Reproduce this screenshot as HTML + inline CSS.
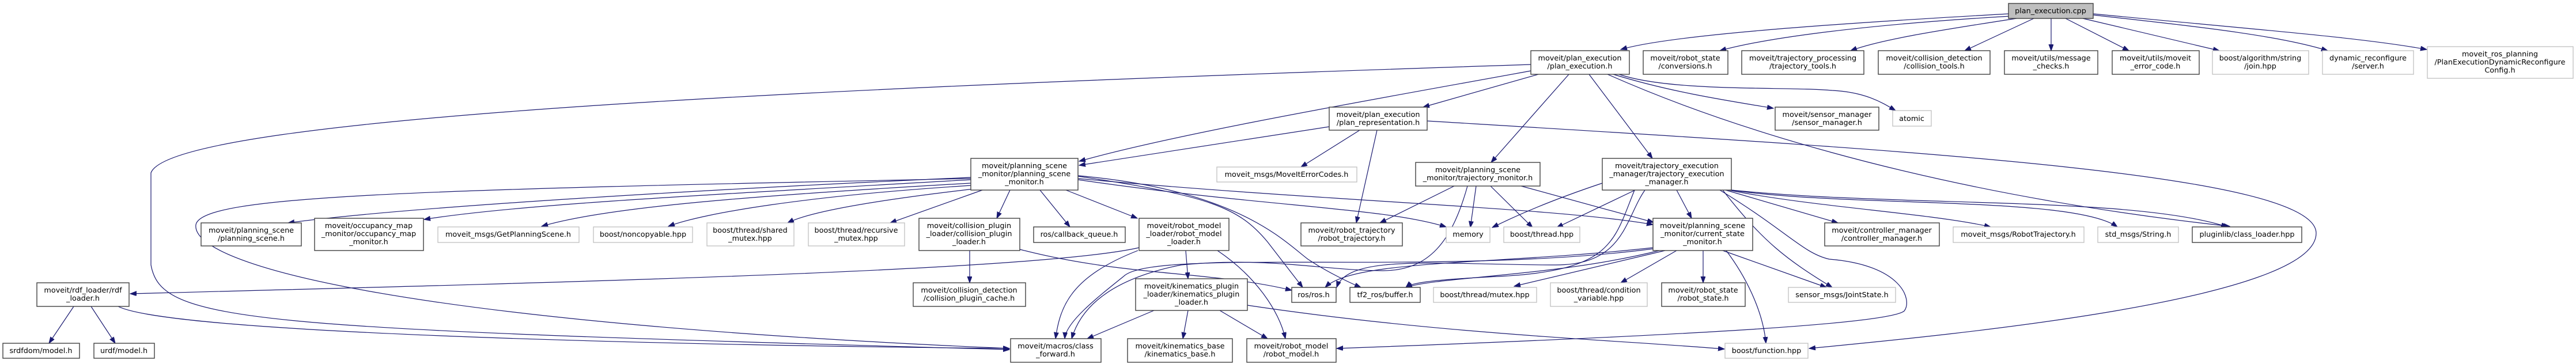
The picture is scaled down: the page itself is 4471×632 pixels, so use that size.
<!DOCTYPE html>
<html><head><meta charset="utf-8"><style>
html,body{margin:0;padding:0;background:#fff;}
svg{display:block;}
text{font-family:"DejaVu Sans","Liberation Sans",sans-serif;font-size:12.8px;fill:#000;text-anchor:middle;}
.n{fill:#fff;stroke:#404040;stroke-width:1.4;}
.g{fill:#fff;stroke:#bfbfbf;stroke-width:1.3;}
.r{fill:#bfbfbf;stroke:#404040;stroke-width:1.4;}
path.e{fill:none;stroke:#191970;stroke-width:1.2;marker-end:url(#a);}
</style></head><body>
<svg width="4471" height="632" viewBox="0 0 4471 632" xmlns="http://www.w3.org/2000/svg">
<defs><marker id="a" markerUnits="userSpaceOnUse" markerWidth="12" markerHeight="10" refX="11" refY="4" orient="auto"><path d="M0,0 L11,4 L0,8 Z" fill="#191970" stroke="#191970"/></marker></defs>
<path class="e" d="M3486,24 C3200,40 2900,60 2813,86"/>
<path class="e" d="M3490,28 C3200,45 3050,70 2985,88"/>
<path class="e" d="M3500,32 C3350,55 3260,70 3212,88"/>
<path class="e" d="M3530,32 L3410,88"/>
<path class="e" d="M3560,32 L3560,88"/>
<path class="e" d="M3585,32 L3695,88"/>
<path class="e" d="M3615,32 L3852,88"/>
<path class="e" d="M3633,26 C3800,45 3950,60 4040,88"/>
<path class="e" d="M3633,24 C3900,50 4100,65 4212,86"/>
<path class="e" d="M2657,112 C1500,150 300,200 262,300 L262,460 C280,560 420,570 1752,607"/>
<path class="e" d="M2657,123 C2400,170 2050,230 1873,280"/>
<path class="e" d="M2670,129 L2470,186"/>
<path class="e" d="M2723,129 L2588,282"/>
<path class="e" d="M2758,129 L2868,275"/>
<path class="e" d="M2800,129 C2900,160 3000,175 3078,188"/>
<path class="e" d="M2810,129 C2900,160 3100,150 3180,157 C3240,160 3270,180 3290,192"/>
<path class="e" d="M2790,129 C2950,200 3300,330 3870,393"/>
<path class="e" d="M2477,210 C3300,260 4020,300 4020,405 C4020,520 3400,580 3140,605"/>
<path class="e" d="M2307,220 L1873,287"/>
<path class="e" d="M2360,226 L2258,290"/>
<path class="e" d="M2390,226 L2354,387"/>
<path class="e" d="M1685,308 C1200,330 700,360 500,387"/>
<path class="e" d="M1685,312 C1200,340 900,355 736,381"/>
<path class="e" d="M1685,318 C1300,340 1050,360 940,393"/>
<path class="e" d="M1685,322 C1400,340 1220,370 1160,393"/>
<path class="e" d="M1690,328 C1500,350 1400,370 1367,387"/>
<path class="e" d="M1705,330 L1545,387"/>
<path class="e" d="M1753,330 L1730,379"/>
<path class="e" d="M1805,330 L1857,394"/>
<path class="e" d="M1850,330 L1974,379"/>
<path class="e" d="M1871,312 C2200,360 2400,360 2510,394"/>
<path class="e" d="M1871,310 C2300,350 2700,360 2869,390"/>
<path class="e" d="M1871,306 C2100,340 2150,360 2200,420 L2261,499"/>
<path class="e" d="M1871,305 C2150,330 2230,420 2270,450 C2300,470 2340,490 2362,499"/>
<path class="e" d="M1685,310 C700,330 350,340 340,390 C330,460 700,560 1752,605"/>
<path class="e" d="M1683,435 L1683,491"/>
<path class="e" d="M1770,433 C1950,480 2100,470 2242,504"/>
<path class="e" d="M1977,430 C1800,470 1000,490 226,510"/>
<path class="e" d="M1975,435 C1860,480 1840,530 1832,588"/>
<path class="e" d="M2058,435 L2062,484"/>
<path class="e" d="M2113,435 C2180,480 2220,540 2231,588"/>
<path class="e" d="M2003,539 L1887,588"/>
<path class="e" d="M2062,539 L2053,588"/>
<path class="e" d="M2117,539 L2200,588"/>
<path class="e" d="M2165,530 C2500,580 2800,590 2993,606"/>
<path class="e" d="M2524,323 L2395,387"/>
<path class="e" d="M2562,323 L2552,395"/>
<path class="e" d="M2587,323 L2660,395"/>
<path class="e" d="M2640,323 L2870,386"/>
<path class="e" d="M2547,323 C2520,420 2480,470 2400,470 C2300,470 2200,445 2050,460 C1950,480 1880,520 1860,588"/>
<path class="e" d="M2781,318 C2700,345 2640,370 2590,395"/>
<path class="e" d="M2838,330 L2702,395"/>
<path class="e" d="M2910,330 L2936,379"/>
<path class="e" d="M2995,330 L3190,387"/>
<path class="e" d="M3000,330 C3150,360 3350,370 3455,394"/>
<path class="e" d="M3005,330 C3200,360 3600,340 3675,394"/>
<path class="e" d="M3005,330 C3300,360 3700,340 3866,394"/>
<path class="e" d="M2855,330 C2820,380 2820,460 2700,460 C2500,460 2340,440 2320,499"/>
<path class="e" d="M2837,330 C2800,420 2800,470 2600,480 C2500,485 2450,490 2440,499"/>
<path class="e" d="M2990,330 C3060,420 3100,450 3180,499"/>
<path class="e" d="M2985,330 C3100,400 3130,440 3175,450 C3300,460 3320,520 3305,540 C3280,560 3000,580 2320,605"/>
<path class="e" d="M2869,430 C2600,460 2350,450 2300,499"/>
<path class="e" d="M2880,435 C2700,480 2500,480 2440,499"/>
<path class="e" d="M2890,435 L2628,497"/>
<path class="e" d="M2910,435 L2813,491"/>
<path class="e" d="M2956,435 L2956,491"/>
<path class="e" d="M2990,435 L3170,499"/>
<path class="e" d="M2996,435 C3030,480 3060,540 3065,596"/>
<path class="e" d="M2869,432 C2500,480 2000,430 1950,480 C1900,520 1850,560 1848,588"/>
<path class="e" d="M128,532 L85,596"/>
<path class="e" d="M158,532 L200,596"/>
<path class="e" d="M205,532 C300,580 1200,600 1752,605"/>
<rect class="r" x="3486" y="6" width="147" height="26"/><text x="3559" y="23">plan_execution.cpp</text>
<rect class="n" x="2657" y="88" width="171" height="41"/><text x="2742" y="105">moveit/plan_execution</text><text x="2742" y="119">/plan_execution.h</text>
<rect class="n" x="2852" y="88" width="147" height="41"/><text x="2925" y="105">moveit/robot_state</text><text x="2925" y="119">/conversions.h</text>
<rect class="n" x="3023" y="88" width="212" height="41"/><text x="3129" y="105">moveit/trajectory_processing</text><text x="3129" y="119">/trajectory_tools.h</text>
<rect class="n" x="3260" y="88" width="194" height="41"/><text x="3357" y="105">moveit/collision_detection</text><text x="3357" y="119">/collision_tools.h</text>
<rect class="n" x="3479" y="88" width="162" height="41"/><text x="3560" y="105">moveit/utils/message</text><text x="3560" y="119">_checks.h</text>
<rect class="n" x="3666" y="88" width="151" height="41"/><text x="3741" y="105">moveit/utils/moveit</text><text x="3741" y="119">_error_code.h</text>
<rect class="g" x="3840" y="88" width="167" height="41"/><text x="3923" y="105">boost/algorithm/string</text><text x="3923" y="119">/join.hpp</text>
<rect class="g" x="4031" y="88" width="158" height="41"/><text x="4110" y="105">dynamic_reconfigure</text><text x="4110" y="119">/server.h</text>
<rect class="g" x="4213" y="81" width="253" height="55"/><text x="4339" y="98">moveit_ros_planning</text><text x="4339" y="112">/PlanExecutionDynamicReconfigure</text><text x="4339" y="126">Config.h</text>
<rect class="n" x="2307" y="186" width="170" height="40"/><text x="2392" y="203">moveit/plan_execution</text><text x="2392" y="217">/plan_representation.h</text>
<rect class="n" x="3081" y="186" width="180" height="40"/><text x="3171" y="203">moveit/sensor_manager</text><text x="3171" y="217">/sensor_manager.h</text>
<rect class="g" x="3285" y="192" width="67" height="27"/><text x="3318" y="210">atomic</text>
<rect class="n" x="1685" y="275" width="186" height="55"/><text x="1778" y="292">moveit/planning_scene</text><text x="1778" y="306">_monitor/planning_scene</text><text x="1778" y="320">_monitor.h</text>
<rect class="g" x="2112" y="290" width="243" height="26"/><text x="2233" y="307">moveit_msgs/MoveItErrorCodes.h</text>
<rect class="n" x="2457" y="282" width="216" height="41"/><text x="2565" y="299">moveit/planning_scene</text><text x="2565" y="313">_monitor/trajectory_monitor.h</text>
<rect class="n" x="2781" y="275" width="224" height="55"/><text x="2893" y="292">moveit/trajectory_execution</text><text x="2893" y="306">_manager/trajectory_execution</text><text x="2893" y="320">_manager.h</text>
<rect class="n" x="349" y="387" width="174" height="40"/><text x="436" y="404">moveit/planning_scene</text><text x="436" y="418">/planning_scene.h</text>
<rect class="n" x="546" y="379" width="189" height="56"/><text x="640" y="396">moveit/occupancy_map</text><text x="640" y="410">_monitor/occupancy_map</text><text x="640" y="424">_monitor.h</text>
<rect class="g" x="760" y="394" width="245" height="27"/><text x="882" y="411">moveit_msgs/GetPlanningScene.h</text>
<rect class="g" x="1030" y="394" width="172" height="27"/><text x="1116" y="411">boost/noncopyable.hpp</text>
<rect class="g" x="1227" y="387" width="151" height="40"/><text x="1302" y="404">boost/thread/shared</text><text x="1302" y="418">_mutex.hpp</text>
<rect class="g" x="1403" y="387" width="167" height="40"/><text x="1486" y="404">boost/thread/recursive</text><text x="1486" y="418">_mutex.hpp</text>
<rect class="n" x="1595" y="379" width="175" height="56"/><text x="1682" y="396">moveit/collision_plugin</text><text x="1682" y="410">_loader/collision_plugin</text><text x="1682" y="424">_loader.h</text>
<rect class="n" x="1794" y="394" width="159" height="27"/><text x="1873" y="411">ros/callback_queue.h</text>
<rect class="n" x="1977" y="379" width="156" height="56"/><text x="2055" y="396">moveit/robot_model</text><text x="2055" y="410">_loader/robot_model</text><text x="2055" y="424">_loader.h</text>
<rect class="n" x="2258" y="387" width="176" height="40"/><text x="2346" y="404">moveit/robot_trajectory</text><text x="2346" y="418">/robot_trajectory.h</text>
<rect class="g" x="2510" y="394" width="76" height="27"/><text x="2548" y="411">memory</text>
<rect class="g" x="2610" y="394" width="132" height="27"/><text x="2676" y="411">boost/thread.hpp</text>
<rect class="n" x="2869" y="379" width="173" height="56"/><text x="2955" y="396">moveit/planning_scene</text><text x="2955" y="410">_monitor/current_state</text><text x="2955" y="424">_monitor.h</text>
<rect class="n" x="3167" y="387" width="199" height="40"/><text x="3266" y="404">moveit/controller_manager</text><text x="3266" y="418">/controller_manager.h</text>
<rect class="g" x="3390" y="394" width="227" height="27"/><text x="3503" y="411">moveit_msgs/RobotTrajectory.h</text>
<rect class="g" x="3641" y="394" width="140" height="27"/><text x="3711" y="411">std_msgs/String.h</text>
<rect class="n" x="3805" y="394" width="190" height="27"/><text x="3900" y="411">pluginlib/class_loader.hpp</text>
<rect class="n" x="64" y="491" width="160" height="41"/><text x="144" y="508">moveit/rdf_loader/rdf</text><text x="144" y="522">_loader.h</text>
<rect class="n" x="1585" y="491" width="195" height="41"/><text x="1682" y="508">moveit/collision_detection</text><text x="1682" y="522">/collision_plugin_cache.h</text>
<rect class="n" x="1971" y="484" width="194" height="55"/><text x="2068" y="501">moveit/kinematics_plugin</text><text x="2068" y="515">_loader/kinematics_plugin</text><text x="2068" y="529">_loader.h</text>
<rect class="n" x="2242" y="499" width="77" height="26"/><text x="2280" y="516">ros/ros.h</text>
<rect class="n" x="2343" y="499" width="122" height="26"/><text x="2404" y="516">tf2_ros/buffer.h</text>
<rect class="g" x="2488" y="499" width="179" height="26"/><text x="2577" y="516">boost/thread/mutex.hpp</text>
<rect class="g" x="2691" y="491" width="168" height="41"/><text x="2775" y="508">boost/thread/condition</text><text x="2775" y="522">_variable.hpp</text>
<rect class="n" x="2884" y="491" width="145" height="41"/><text x="2956" y="508">moveit/robot_state</text><text x="2956" y="522">/robot_state.h</text>
<rect class="g" x="3104" y="499" width="186" height="26"/><text x="3197" y="516">sensor_msgs/JointState.h</text>
<rect class="n" x="5" y="596" width="133" height="26"/><text x="71" y="613">srdfdom/model.h</text>
<rect class="n" x="163" y="596" width="105" height="26"/><text x="215" y="613">urdf/model.h</text>
<rect class="n" x="1754" y="588" width="157" height="41"/><text x="1832" y="605">moveit/macros/class</text><text x="1832" y="619">_forward.h</text>
<rect class="n" x="1957" y="588" width="182" height="41"/><text x="2048" y="605">moveit/kinematics_base</text><text x="2048" y="619">/kinematics_base.h</text>
<rect class="n" x="2164" y="588" width="155" height="41"/><text x="2241" y="605">moveit/robot_model</text><text x="2241" y="619">/robot_model.h</text>
<rect class="g" x="2994" y="596" width="144" height="26"/><text x="3066" y="613">boost/function.hpp</text>
</svg>
</body></html>
